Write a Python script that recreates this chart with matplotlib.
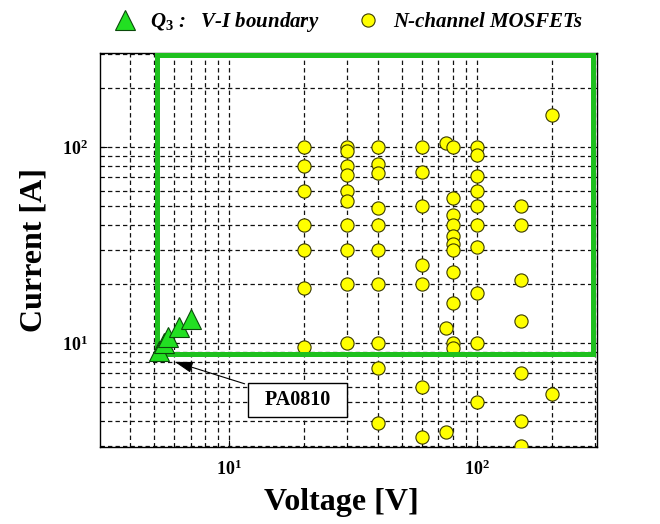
import numpy as np
import matplotlib
matplotlib.use("Agg")
import matplotlib.pyplot as plt

# fonts: Times-like bold serif everywhere
plt.rcParams["font.family"] = "Liberation Serif"
plt.rcParams["font.weight"] = "bold"
plt.rcParams["mathtext.fontset"] = "custom"
plt.rcParams["mathtext.rm"] = "Liberation Serif:bold"
plt.rcParams["mathtext.bf"] = "Liberation Serif:bold"
plt.rcParams["mathtext.it"] = "Liberation Serif:italic:bold"

# N-channel MOSFETs, grouped by voltage rating [V] -> current ratings [A]
mosfet_v = [20, 30, 40, 60, 75, 80, 100, 150, 200]
mosfet_i = [
    [100, 80, 60, 40, 30, 19, 9.5],
    [100, 95, 80, 72, 60, 53, 40, 30, 20, 10],
    [100, 82, 74, 49, 40, 30, 20, 10, 7.5, 3.9],
    [100, 75, 50, 25, 20, 6, 3.3],
    [105, 12, 3.5],
    [100, 55, 45, 40, 35, 32, 30, 23, 16, 10, 9.4],
    [100, 91, 71, 60, 50, 40, 31, 18, 10, 5],
    [50, 40, 21, 13, 7, 4, 3],
    [145, 5.5],
]

# Q3 V-I boundary points
q3_v = [5.2, 5.45, 5.7, 6.3, 7.05]
q3_i = [9.1, 10.0, 10.8, 12.1, 13.2]

# search window (green box)
box_v = [5.15, 295]
box_i = [8.8, 295]

# annotation
pa_label = "PA0810"
pa_point = (5.9, 8.1)
pa_text = (18.9, 5.1)

x_ticks = [10, 100]
x_ticklabels = [r"$10^{1}$", r"$10^{2}$"]
y_ticks = [10, 100]
y_ticklabels = [r"$10^{1}$", r"$10^{2}$"]

fig = plt.figure(figsize=(6.6, 5.24), dpi=100)
ax = fig.add_axes([100 / 660, 77 / 524, 497 / 660, 394 / 524])
ax.set_xscale("log")
ax.set_yscale("log")
ax.set_xlim(3.02, 305)
ax.set_ylim(2.95, 302)

ax.set_axisbelow(True)
ax.grid(which="both", linestyle=(0, (3.5, 2.5)), linewidth=0.9, color="#111111")

# mosfet points
pv = []
pi = []
for v, cur in zip(mosfet_v, mosfet_i):
    pv += [v] * len(cur)
    pi += cur
ax.plot(pv, pi, linestyle="none", marker="o", ms=9.5, mfc="#ffff00",
        mec="#3a3a00", mew=0.8, zorder=3, label="N-channel MOSFETs")

# green box
bx = [box_v[0], box_v[1], box_v[1], box_v[0], box_v[0]]
by = [box_i[0], box_i[0], box_i[1], box_i[1], box_i[0]]
ax.plot(bx, by, color="#1ec01e", lw=3.6, solid_joinstyle="miter", zorder=4)

# Q3 boundary triangles
ax.plot(q3_v, q3_i, linestyle="none", marker="^", ms=14, mfc="#22e022",
        mec="#0b4a0b", mew=0.8, zorder=5, label=r"$Q_3$ :   V-I boundary")

# annotation box with arrow
ax.annotate("  " + pa_label + "  ", xy=pa_point, xytext=pa_text,
            ha="center", va="center", fontsize=14.5, fontweight="bold",
            bbox=dict(boxstyle="square,pad=0.35", fc="white", ec="black", lw=1),
            arrowprops=dict(arrowstyle="-|>,head_length=0.55,head_width=0.17",
                            mutation_scale=20, color="black", lw=0.8),
            zorder=6)

ax.set_xticks(x_ticks)
ax.set_xticklabels(x_ticklabels, fontsize=13)
ax.set_yticks(y_ticks)
ax.set_yticklabels(y_ticklabels, fontsize=13)
ax.tick_params(which="both", direction="in")
ax.tick_params(which="major", length=5, pad=9)
ax.tick_params(which="minor", length=3, labelbottom=False, labelleft=False)

for s in ax.spines.values():
    s.set_linewidth(1.0)
    s.set_color("black")

ax.set_xlabel("Voltage [V]", fontsize=23, fontweight="bold")
ax.set_ylabel("Current [A]", fontsize=23, fontweight="bold")
ax.xaxis.set_label_coords(0.485, -0.104)
ax.yaxis.set_label_coords(-0.103, 0.5)

h, l = ax.get_legend_handles_labels()
leg = fig.legend(h[::-1], l[::-1], loc="center left",
                 bbox_to_anchor=(0.1705, 1 - 22 / 524), ncol=2, frameon=False,
                 borderpad=0, borderaxespad=0, handlelength=1.2,
                 handletextpad=0.6, columnspacing=1.75,
                 prop=dict(family="Liberation Serif", style="italic",
                           weight="bold", size=15))

fig.savefig("out.png", dpi=100)
